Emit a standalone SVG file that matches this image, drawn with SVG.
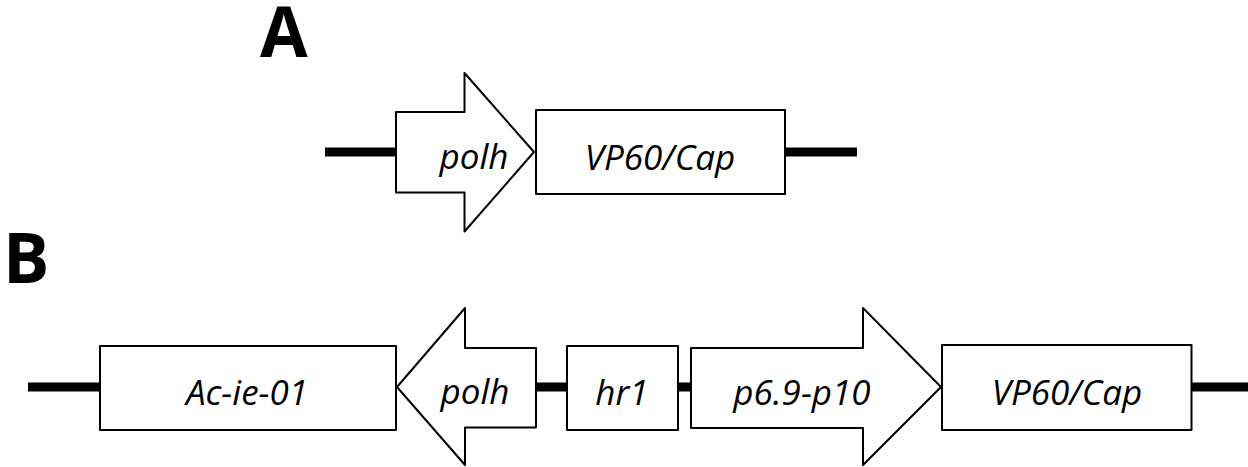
<svg xmlns="http://www.w3.org/2000/svg" width="1248" height="467" viewBox="0 0 1248 467">
<style>
.bb{fill:none;stroke:#000;stroke-width:9}
.el{fill:#fff;stroke:#000;stroke-width:2;stroke-linejoin:round}
.lb{font-family:"Open Sans","Liberation Sans",sans-serif;font-style:italic;font-size:35px;fill:#000;text-anchor:middle}
.hd{font-family:"Open Sans","Liberation Sans",sans-serif;font-weight:bold;font-size:69px;fill:#000}
</style>
<rect width="1248" height="467" fill="#fff"/>
<text class="hd" x="260" y="57">A</text>
<text class="hd" x="3" y="283">B</text>
<g id="connectors">
<line class="bb" x1="325" y1="152" x2="397" y2="152"/>
<line class="bb" x1="784" y1="152" x2="857" y2="152"/>
<line class="bb" x1="28" y1="387" x2="101" y2="387"/>
<line class="bb" x1="535" y1="387" x2="568" y2="387"/>
<line class="bb" x1="677" y1="387" x2="692" y2="387"/>
<line class="bb" x1="1191" y1="387" x2="1248" y2="387"/>
</g>
<g id="A-polh">
<path class="el" d="M396,112 L464.5,112 L464.5,73 L534,152 L464.5,231.5 L464.5,192.5 L396,192.5 Z"/>
<text class="lb" x="474" y="169">polh</text>
</g>
<g id="A-vp60">
<rect class="el" x="536" y="110" width="249" height="84"/>
<text class="lb" x="660" y="170">VP60/Cap</text>
</g>
<g id="B-acie01">
<rect class="el" x="100" y="346" width="296" height="84"/>
<text class="lb" x="247" y="405">Ac-ie-01</text>
</g>
<g id="B-polh">
<path class="el" d="M536,348 L465,348 L465,308 L397,387 L465,465 L465,427.5 L536,427.5 Z"/>
<text class="lb" x="475" y="404">polh</text>
</g>
<g id="B-hr1">
<rect class="el" x="567" y="346" width="111" height="84"/>
<text class="lb" x="622" y="405">hr1</text>
</g>
<g id="B-p69p10">
<path class="el" d="M691,348 L863,348 L863,308 L941,387 L863,465 L863,428 L691,428 Z"/>
<text class="lb" x="802" y="405">p6.9-p10</text>
</g>
<g id="B-vp60">
<rect class="el" x="942" y="345" width="249.5" height="85"/>
<text class="lb" x="1067" y="405">VP60/Cap</text>
</g>
</svg>
